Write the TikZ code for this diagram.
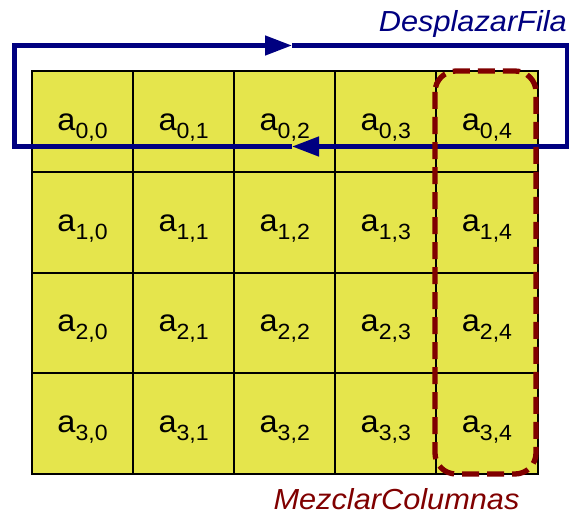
\documentclass[tikz,border=0pt]{standalone}
\usepackage{fontspec}
\setmainfont{Liberation Sans}
\newfontfamily\labfont[FakeStretch=1.05]{Liberation Sans}
\newfontfamily\capfont[FakeStretch=1.06]{Liberation Sans}
\usetikzlibrary{arrows.meta}
\definecolor{cellyellow}{RGB}{229,229,76}
\definecolor{navyblue}{RGB}{0,0,128}
\definecolor{darkred}{RGB}{128,0,0}
\newcommand{\cellab}[2]{{\labfont\fontsize{31}{31}\selectfont a\raisebox{-8pt}{\fontsize{22}{22}\selectfont #1,#2}}}
\begin{document}
\begin{tikzpicture}[x=1pt,y=-1pt,
  cell/.style={draw=black, fill=cellyellow, line width=2pt, minimum width=101.1pt, minimum height=100.75pt, inner sep=0pt, text height=21pt, text depth=3pt, anchor=center},
  blueline/.style={draw=navyblue, line width=4.6pt, -{Triangle[length=27pt,width=19pt]}},
  redbox/.style={draw=darkred, line width=5.3pt, dash pattern=on 17pt off 8pt, rounded corners=21pt},
  captext/.style={inner sep=0pt, font=\capfont\itshape\fontsize{29}{29}\selectfont}]
\useasboundingbox (0,0) rectangle (575,516);
\foreach \r in {0,...,3}{
  \foreach \c in {0,...,4}{
    \node[cell] (c\r\c) at ({32+101.1*\c+50.55},{71+100.75*\r+50.375}) {\cellab{\r}{\c}};
  }
}
\coordinate (tl) at (14.5,45.5);
\coordinate (tr) at (567,45.5);
\coordinate (br) at (567,146.5);
\coordinate (bl) at (14.5,146.5);
\coordinate (mt) at (292,45.5);
\coordinate (mb) at (292,146.5);
\draw[blueline] (mb) -- (bl) -- (tl) -- (mt);
\draw[blueline] (mt) -- (tr) -- (br) -- (mb);
\draw[redbox] (435,71) rectangle (536,474);
\node[captext, text=navyblue, anchor=base east] (desp) at (567,32) {DesplazarFila};
\node[captext, text=darkred, anchor=base] (mezc) at (396.5,509) {MezclarColumnas};
\end{tikzpicture}
\end{document}
